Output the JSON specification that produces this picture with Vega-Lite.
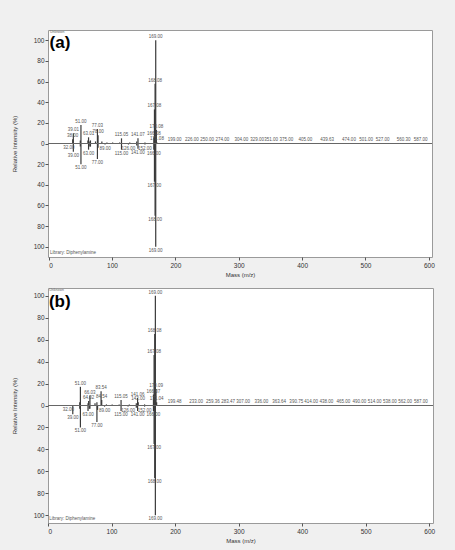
{
  "$schema": "https://vega.github.io/schema/vega-lite/v6.json",
  "background": "#f0f0f0",
  "padding": {"left": 10, "top": 29, "right": 20, "bottom": 8},
  "spacing": 9,
  "config": {
    "view": {"fill": "white", "stroke": "#9a9a9a", "strokeWidth": 1},
    "font": "Liberation Sans",
    "axis": {"labelFont": "Liberation Sans", "titleFont": "Liberation Sans", "labelFontSize": 6.5, "titleFontSize": 6, "titleFontWeight": "normal", "labelColor": "#333", "titleColor": "#333", "tickColor": "#555", "domain": false, "grid": false, "tickSize": 3, "labelOverlap": false, "labelBound": false},
    "axisY": {"labelOverlap": false, "labelSeparation": 0}
  },
  "datasets": {
    "a": [
      {"m": 32, "i": -0.5, "l": "32.00"},
      {"m": 38, "i": 4, "l": "38.00"},
      {"m": 39, "i": 10, "l": "39.01"},
      {"m": 50, "i": 3, "l": null},
      {"m": 51, "i": 18, "l": "51.00"},
      {"m": 62, "i": 3, "l": null},
      {"m": 63, "i": 6, "l": "63.01"},
      {"m": 65, "i": 2, "l": null},
      {"m": 66, "i": 3, "l": null},
      {"m": 74, "i": 2, "l": null},
      {"m": 77, "i": 14, "l": "77.03"},
      {"m": 78, "i": 8, "l": "78.00"},
      {"m": 84, "i": 2, "l": null},
      {"m": 92, "i": 1, "l": null},
      {"m": 101, "i": 1, "l": null},
      {"m": 112, "i": 1, "l": null},
      {"m": 115, "i": 5, "l": "115.05"},
      {"m": 128, "i": 1, "l": null},
      {"m": 139, "i": 2, "l": null},
      {"m": 141, "i": 5, "l": "141.07"},
      {"m": 152, "i": 1, "l": null},
      {"m": 166, "i": 6, "l": "166.08"},
      {"m": 167, "i": 33, "l": "167.08"},
      {"m": 168, "i": 58, "l": "168.08"},
      {"m": 169, "i": 100, "l": "169.00"},
      {"m": 170, "i": 13, "l": "170.08"},
      {"m": 171, "i": 1, "l": "171.08"},
      {"m": 199, "i": 0.3, "l": "199.00"},
      {"m": 226, "i": 0.3, "l": "226.00"},
      {"m": 250, "i": 0.3, "l": "250.00"},
      {"m": 274, "i": 0.3, "l": "274.00"},
      {"m": 304, "i": 0.3, "l": "304.00"},
      {"m": 329, "i": 0.3, "l": "329.00"},
      {"m": 351, "i": 0.3, "l": "351.00"},
      {"m": 375, "i": 0.3, "l": "375.00"},
      {"m": 405, "i": 0.3, "l": "405.00"},
      {"m": 439.63, "i": 0.3, "l": "439.63"},
      {"m": 474, "i": 0.3, "l": "474.00"},
      {"m": 501, "i": 0.3, "l": "501.00"},
      {"m": 527, "i": 0.3, "l": "527.00"},
      {"m": 560.3, "i": 0.3, "l": "560.30"},
      {"m": 587, "i": 0.3, "l": "587.00"},
      {"m": 39, "i": -8, "l": "39.00"},
      {"m": 50, "i": -3, "l": null},
      {"m": 51, "i": -20, "l": "51.00"},
      {"m": 63, "i": -6, "l": "63.00"},
      {"m": 65, "i": -3, "l": null},
      {"m": 66, "i": -3, "l": null},
      {"m": 77, "i": -15, "l": "77.00"},
      {"m": 78, "i": -4, "l": null},
      {"m": 89, "i": -1, "l": "89.00"},
      {"m": 115, "i": -6, "l": "115.00"},
      {"m": 126, "i": -1, "l": "126.00"},
      {"m": 139, "i": -2, "l": null},
      {"m": 141, "i": -5, "l": "141.00"},
      {"m": 152, "i": -1, "l": "152.00"},
      {"m": 166, "i": -6, "l": "166.00"},
      {"m": 167, "i": -37, "l": "167.00"},
      {"m": 168, "i": -70, "l": "168.00"},
      {"m": 169, "i": -100, "l": "169.00"}
    ],
    "b": [
      {"m": 32, "i": -0.5, "l": "32.00"},
      {"m": 50, "i": 3, "l": null},
      {"m": 51, "i": 17, "l": "51.00"},
      {"m": 63, "i": 2, "l": null},
      {"m": 64, "i": 4, "l": "64.02"},
      {"m": 66, "i": 9, "l": "66.03"},
      {"m": 74, "i": 2, "l": null},
      {"m": 77, "i": 3, "l": null},
      {"m": 83.54, "i": 13, "l": "83.54"},
      {"m": 84.54, "i": 5, "l": "84.54"},
      {"m": 92, "i": 1, "l": null},
      {"m": 101, "i": 1, "l": null},
      {"m": 112, "i": 1, "l": null},
      {"m": 115, "i": 5, "l": "115.05"},
      {"m": 128, "i": 1, "l": null},
      {"m": 139, "i": 2, "l": null},
      {"m": 141, "i": 7, "l": "141.06"},
      {"m": 142, "i": 3, "l": "142.00"},
      {"m": 152, "i": 1, "l": null},
      {"m": 166, "i": 10, "l": "166.07"},
      {"m": 167, "i": 46, "l": "167.08"},
      {"m": 168, "i": 65, "l": "168.08"},
      {"m": 169, "i": 100, "l": "169.00"},
      {"m": 170, "i": 15, "l": "170.09"},
      {"m": 171, "i": 3, "l": "171.04"},
      {"m": 199.48, "i": 0.3, "l": "199.48"},
      {"m": 233, "i": 0.3, "l": "233.00"},
      {"m": 259.36, "i": 0.3, "l": "259.36"},
      {"m": 283.47, "i": 0.3, "l": "283.47"},
      {"m": 307, "i": 0.3, "l": "307.00"},
      {"m": 336, "i": 0.3, "l": "336.00"},
      {"m": 363.64, "i": 0.3, "l": "363.64"},
      {"m": 390.75, "i": 0.3, "l": "390.75"},
      {"m": 414, "i": 0.3, "l": "414.00"},
      {"m": 438, "i": 0.3, "l": "438.00"},
      {"m": 465, "i": 0.3, "l": "465.00"},
      {"m": 490, "i": 0.3, "l": "490.00"},
      {"m": 514, "i": 0.3, "l": "514.00"},
      {"m": 538, "i": 0.3, "l": "538.00"},
      {"m": 562, "i": 0.3, "l": "562.00"},
      {"m": 587, "i": 0.3, "l": "587.00"},
      {"m": 39, "i": -8, "l": "39.00"},
      {"m": 50, "i": -3, "l": null},
      {"m": 51, "i": -20, "l": "51.00"},
      {"m": 63, "i": -5, "l": "63.00"},
      {"m": 65, "i": -3, "l": null},
      {"m": 66, "i": -3, "l": null},
      {"m": 77, "i": -15, "l": "77.00"},
      {"m": 78, "i": -4, "l": null},
      {"m": 89, "i": -1, "l": "89.00"},
      {"m": 115, "i": -5, "l": "115.00"},
      {"m": 126, "i": -1, "l": "126.00"},
      {"m": 139, "i": -2, "l": null},
      {"m": 141, "i": -5, "l": "141.00"},
      {"m": 152, "i": -1, "l": "152.00"},
      {"m": 166, "i": -5, "l": "166.00"},
      {"m": 167, "i": -35, "l": "167.00"},
      {"m": 168, "i": -66, "l": "168.00"},
      {"m": 169, "i": -100, "l": "169.00"}
    ],
    "notes": [
      {"panel": "a", "tag": "(a)", "top": "Unknown", "bottom": "Library: Diphenylamine"},
      {"panel": "b", "tag": "(b)", "top": "Unknown", "bottom": "Library: Diphenylamine"}
    ]
  },
  "vconcat": [
    {
      "width": 384,
      "height": 227,
      "layer": [
        {"data": {"name": "a"}, "mark": {"type": "rule", "color": "#3a3a3a", "strokeWidth": 1.2},
         "encoding": {
           "x": {"field": "m", "type": "quantitative", "scale": {"domain": [-1, 605], "nice": false, "zero": false}, "axis": {"values": [0, 100, 200, 300, 400, 500, 600], "labelOverlap": false, "title": "Mass (m/z)", "titlePadding": 3, "labelPadding": 2}},
           "y": {"field": "i", "type": "quantitative", "scale": {"domain": [-110, 110], "nice": false}, "axis": {"values": [-100, -80, -60, -40, -20, 0, 20, 40, 60, 80, 100], "labelExpr": "abs(datum.value)", "labelOverlap": false, "title": "Relative Intensity (%)", "titlePadding": 16, "labelPadding": 1}},
           "y2": {"datum": 0}}},
        {"data": {"name": "notes"}, "transform": [{"filter": "datum.panel == 'a'"}], "mark": {"type": "rule", "color": "#666", "strokeWidth": 1},
         "encoding": {
           "x": {"datum": -1, "type": "quantitative", "scale": {"domain": [-1, 605], "nice": false, "zero": false}, "axis": {"values": [0, 100, 200, 300, 400, 500, 600], "labelOverlap": false, "title": "Mass (m/z)", "titlePadding": 3, "labelPadding": 2}},
           "x2": {"datum": 605},
           "y": {"datum": 0, "type": "quantitative", "scale": {"domain": [-110, 110], "nice": false}, "axis": {"values": [-100, -80, -60, -40, -20, 0, 20, 40, 60, 80, 100], "labelExpr": "abs(datum.value)", "labelOverlap": false, "title": "Relative Intensity (%)", "titlePadding": 16, "labelPadding": 1}}}},
        {"data": {"name": "a"}, "transform": [{"filter": "datum.l && datum.i > 0"}], "mark": {"type": "text", "fontSize": 4.5, "color": "#555", "baseline": "bottom", "dy": -1},
         "encoding": {
           "x": {"field": "m", "type": "quantitative", "scale": {"domain": [-1, 605], "nice": false, "zero": false}, "axis": {"values": [0, 100, 200, 300, 400, 500, 600], "labelOverlap": false, "title": "Mass (m/z)", "titlePadding": 3, "labelPadding": 2}},
           "y": {"field": "i", "type": "quantitative", "scale": {"domain": [-110, 110], "nice": false}, "axis": {"values": [-100, -80, -60, -40, -20, 0, 20, 40, 60, 80, 100], "labelExpr": "abs(datum.value)", "labelOverlap": false, "title": "Relative Intensity (%)", "titlePadding": 16, "labelPadding": 1}},
           "text": {"field": "l"}}},
        {"data": {"name": "a"}, "transform": [{"filter": "datum.l && datum.i < 0"}], "mark": {"type": "text", "fontSize": 4.5, "color": "#555", "baseline": "top", "dy": 1},
         "encoding": {
           "x": {"field": "m", "type": "quantitative", "scale": {"domain": [-1, 605], "nice": false, "zero": false}, "axis": {"values": [0, 100, 200, 300, 400, 500, 600], "labelOverlap": false, "title": "Mass (m/z)", "titlePadding": 3, "labelPadding": 2}},
           "y": {"field": "i", "type": "quantitative", "scale": {"domain": [-110, 110], "nice": false}, "axis": {"values": [-100, -80, -60, -40, -20, 0, 20, 40, 60, 80, 100], "labelExpr": "abs(datum.value)", "labelOverlap": false, "title": "Relative Intensity (%)", "titlePadding": 16, "labelPadding": 1}},
           "text": {"field": "l"}}},
        {"data": {"name": "notes"}, "transform": [{"filter": "datum.panel == 'a'"}], "mark": {"type": "text", "fontSize": 17, "fontWeight": "bold", "color": "#000", "align": "left", "baseline": "middle"},
         "encoding": {
           "x": {"datum": 1.5, "type": "quantitative", "scale": {"domain": [-1, 605], "nice": false, "zero": false}, "axis": {"values": [0, 100, 200, 300, 400, 500, 600], "labelOverlap": false, "title": "Mass (m/z)", "titlePadding": 3, "labelPadding": 2}},
           "y": {"datum": 97, "type": "quantitative", "scale": {"domain": [-110, 110], "nice": false}, "axis": {"values": [-100, -80, -60, -40, -20, 0, 20, 40, 60, 80, 100], "labelExpr": "abs(datum.value)", "labelOverlap": false, "title": "Relative Intensity (%)", "titlePadding": 16, "labelPadding": 1}},
           "text": {"field": "tag"}}},
        {"data": {"name": "notes"}, "transform": [{"filter": "datum.panel == 'a'"}], "mark": {"type": "text", "fontSize": 3.5, "color": "#666", "align": "left", "baseline": "top"},
         "encoding": {
           "x": {"datum": 2, "type": "quantitative", "scale": {"domain": [-1, 605], "nice": false, "zero": false}, "axis": {"values": [0, 100, 200, 300, 400, 500, 600], "labelOverlap": false, "title": "Mass (m/z)", "titlePadding": 3, "labelPadding": 2}},
           "y": {"datum": 110, "type": "quantitative", "scale": {"domain": [-110, 110], "nice": false}, "axis": {"values": [-100, -80, -60, -40, -20, 0, 20, 40, 60, 80, 100], "labelExpr": "abs(datum.value)", "labelOverlap": false, "title": "Relative Intensity (%)", "titlePadding": 16, "labelPadding": 1}},
           "text": {"field": "top"}}},
        {"data": {"name": "notes"}, "transform": [{"filter": "datum.panel == 'a'"}], "mark": {"type": "text", "fontSize": 4.5, "color": "#555", "align": "left", "baseline": "bottom"},
         "encoding": {
           "x": {"datum": 2, "type": "quantitative", "scale": {"domain": [-1, 605], "nice": false, "zero": false}, "axis": {"values": [0, 100, 200, 300, 400, 500, 600], "labelOverlap": false, "title": "Mass (m/z)", "titlePadding": 3, "labelPadding": 2}},
           "y": {"datum": -108, "type": "quantitative", "scale": {"domain": [-110, 110], "nice": false}, "axis": {"values": [-100, -80, -60, -40, -20, 0, 20, 40, 60, 80, 100], "labelExpr": "abs(datum.value)", "labelOverlap": false, "title": "Relative Intensity (%)", "titlePadding": 16, "labelPadding": 1}},
           "text": {"field": "bottom"}}}
      ]
    },
    {
      "width": 385,
      "height": 235,
      "layer": [
        {"data": {"name": "b"}, "mark": {"type": "rule", "color": "#3a3a3a", "strokeWidth": 1.2},
         "encoding": {
           "x": {"field": "m", "type": "quantitative", "scale": {"domain": [0, 606], "nice": false, "zero": false}, "axis": {"values": [0, 100, 200, 300, 400, 500, 600], "labelOverlap": false, "title": "Mass (m/z)", "titlePadding": 3, "labelPadding": 2}},
           "y": {"field": "i", "type": "quantitative", "scale": {"domain": [-107, 107], "nice": false}, "axis": {"values": [-100, -80, -60, -40, -20, 0, 20, 40, 60, 80, 100], "labelExpr": "abs(datum.value)", "labelOverlap": false, "title": "Relative Intensity (%)", "titlePadding": 16, "labelPadding": 1}},
           "y2": {"datum": 0}}},
        {"data": {"name": "notes"}, "transform": [{"filter": "datum.panel == 'b'"}], "mark": {"type": "rule", "color": "#666", "strokeWidth": 1},
         "encoding": {
           "x": {"datum": 0, "type": "quantitative", "scale": {"domain": [0, 606], "nice": false, "zero": false}, "axis": {"values": [0, 100, 200, 300, 400, 500, 600], "labelOverlap": false, "title": "Mass (m/z)", "titlePadding": 3, "labelPadding": 2}},
           "x2": {"datum": 606},
           "y": {"datum": 0, "type": "quantitative", "scale": {"domain": [-107, 107], "nice": false}, "axis": {"values": [-100, -80, -60, -40, -20, 0, 20, 40, 60, 80, 100], "labelExpr": "abs(datum.value)", "labelOverlap": false, "title": "Relative Intensity (%)", "titlePadding": 16, "labelPadding": 1}}}},
        {"data": {"name": "b"}, "transform": [{"filter": "datum.l && datum.i > 0"}], "mark": {"type": "text", "fontSize": 4.5, "color": "#555", "baseline": "bottom", "dy": -1},
         "encoding": {
           "x": {"field": "m", "type": "quantitative", "scale": {"domain": [0, 606], "nice": false, "zero": false}, "axis": {"values": [0, 100, 200, 300, 400, 500, 600], "labelOverlap": false, "title": "Mass (m/z)", "titlePadding": 3, "labelPadding": 2}},
           "y": {"field": "i", "type": "quantitative", "scale": {"domain": [-107, 107], "nice": false}, "axis": {"values": [-100, -80, -60, -40, -20, 0, 20, 40, 60, 80, 100], "labelExpr": "abs(datum.value)", "labelOverlap": false, "title": "Relative Intensity (%)", "titlePadding": 16, "labelPadding": 1}},
           "text": {"field": "l"}}},
        {"data": {"name": "b"}, "transform": [{"filter": "datum.l && datum.i < 0"}], "mark": {"type": "text", "fontSize": 4.5, "color": "#555", "baseline": "top", "dy": 1},
         "encoding": {
           "x": {"field": "m", "type": "quantitative", "scale": {"domain": [0, 606], "nice": false, "zero": false}, "axis": {"values": [0, 100, 200, 300, 400, 500, 600], "labelOverlap": false, "title": "Mass (m/z)", "titlePadding": 3, "labelPadding": 2}},
           "y": {"field": "i", "type": "quantitative", "scale": {"domain": [-107, 107], "nice": false}, "axis": {"values": [-100, -80, -60, -40, -20, 0, 20, 40, 60, 80, 100], "labelExpr": "abs(datum.value)", "labelOverlap": false, "title": "Relative Intensity (%)", "titlePadding": 16, "labelPadding": 1}},
           "text": {"field": "l"}}},
        {"data": {"name": "notes"}, "transform": [{"filter": "datum.panel == 'b'"}], "mark": {"type": "text", "fontSize": 17, "fontWeight": "bold", "color": "#000", "align": "left", "baseline": "middle"},
         "encoding": {
           "x": {"datum": 1.5, "type": "quantitative", "scale": {"domain": [0, 606], "nice": false, "zero": false}, "axis": {"values": [0, 100, 200, 300, 400, 500, 600], "labelOverlap": false, "title": "Mass (m/z)", "titlePadding": 3, "labelPadding": 2}},
           "y": {"datum": 94, "type": "quantitative", "scale": {"domain": [-107, 107], "nice": false}, "axis": {"values": [-100, -80, -60, -40, -20, 0, 20, 40, 60, 80, 100], "labelExpr": "abs(datum.value)", "labelOverlap": false, "title": "Relative Intensity (%)", "titlePadding": 16, "labelPadding": 1}},
           "text": {"field": "tag"}}},
        {"data": {"name": "notes"}, "transform": [{"filter": "datum.panel == 'b'"}], "mark": {"type": "text", "fontSize": 3.5, "color": "#666", "align": "left", "baseline": "top"},
         "encoding": {
           "x": {"datum": 2, "type": "quantitative", "scale": {"domain": [0, 606], "nice": false, "zero": false}, "axis": {"values": [0, 100, 200, 300, 400, 500, 600], "labelOverlap": false, "title": "Mass (m/z)", "titlePadding": 3, "labelPadding": 2}},
           "y": {"datum": 107, "type": "quantitative", "scale": {"domain": [-107, 107], "nice": false}, "axis": {"values": [-100, -80, -60, -40, -20, 0, 20, 40, 60, 80, 100], "labelExpr": "abs(datum.value)", "labelOverlap": false, "title": "Relative Intensity (%)", "titlePadding": 16, "labelPadding": 1}},
           "text": {"field": "top"}}},
        {"data": {"name": "notes"}, "transform": [{"filter": "datum.panel == 'b'"}], "mark": {"type": "text", "fontSize": 4.5, "color": "#555", "align": "left", "baseline": "bottom"},
         "encoding": {
           "x": {"datum": 2, "type": "quantitative", "scale": {"domain": [0, 606], "nice": false, "zero": false}, "axis": {"values": [0, 100, 200, 300, 400, 500, 600], "labelOverlap": false, "title": "Mass (m/z)", "titlePadding": 3, "labelPadding": 2}},
           "y": {"datum": -105, "type": "quantitative", "scale": {"domain": [-107, 107], "nice": false}, "axis": {"values": [-100, -80, -60, -40, -20, 0, 20, 40, 60, 80, 100], "labelExpr": "abs(datum.value)", "labelOverlap": false, "title": "Relative Intensity (%)", "titlePadding": 16, "labelPadding": 1}},
           "text": {"field": "bottom"}}}
      ]
    }
  ]
}
